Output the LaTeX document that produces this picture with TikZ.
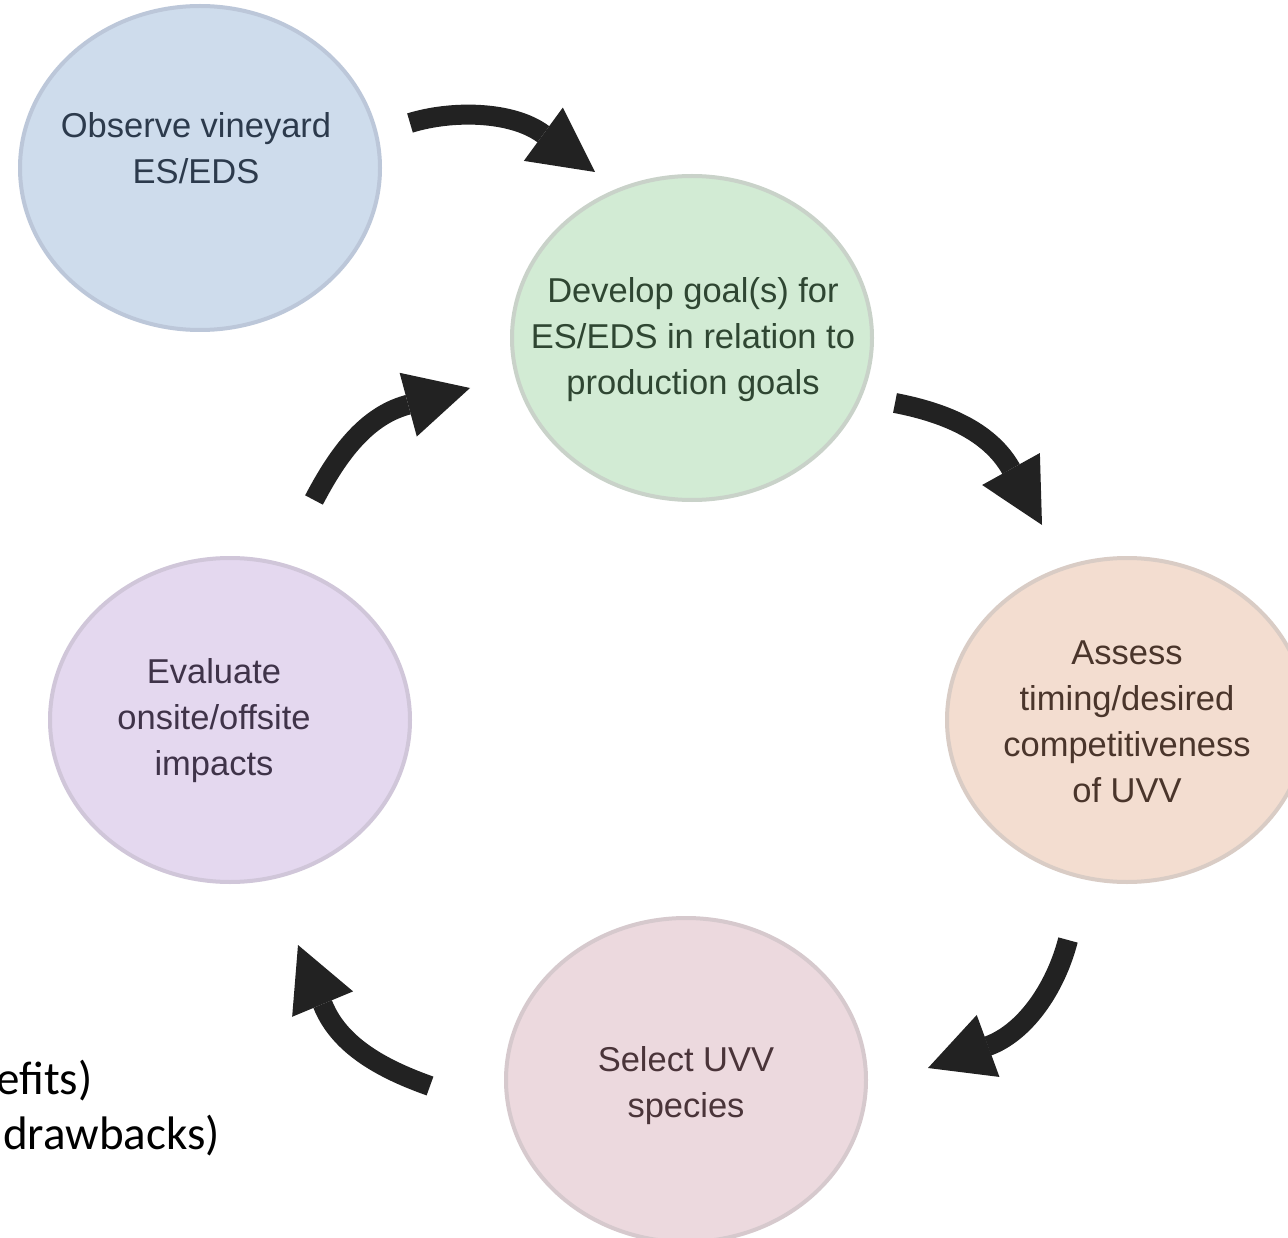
\documentclass[tikz,border=0pt]{standalone}
\usepackage{fontspec}
\setmainfont{Liberation Sans}
\newfontfamily\carlitofont{Carlito}
\usetikzlibrary{shapes.geometric,arrows.meta}
\definecolor{bluefill}{HTML}{CEDCEC}
\definecolor{blueline}{HTML}{BCC7D9}
\definecolor{bluetext}{HTML}{2C3A4C}
\definecolor{greenfill}{HTML}{D2EBD4}
\definecolor{greenline}{HTML}{C9D2C9}
\definecolor{greentext}{HTML}{2F4632}
\definecolor{orangefill}{HTML}{F3DDD0}
\definecolor{orangeline}{HTML}{D9CCC5}
\definecolor{orangetext}{HTML}{4A352B}
\definecolor{purplefill}{HTML}{E4D8EF}
\definecolor{purpleline}{HTML}{D0C6D9}
\definecolor{purpletext}{HTML}{3F3349}
\definecolor{pinkfill}{HTML}{ECD9DE}
\definecolor{pinkline}{HTML}{D6C9CD}
\definecolor{pinktext}{HTML}{4A3439}
\definecolor{arrowcol}{HTML}{222222}
\begin{document}
\begin{tikzpicture}[x=1pt,y=-1pt,
  stage/.style={ellipse, minimum width=360pt, minimum height=324pt, line width=4pt, inner sep=0pt},
  stagetext/.style={font=\fontsize{34.5}{46}\selectfont, align=center, inner sep=0pt},
  bigarrow/.style={draw=arrowcol, line width=20pt, -{Triangle[length=64pt,width=66pt,line width=0pt]}},
  sidetext/.style={font=\carlitofont\fontsize{47}{57}\selectfont, anchor=base west, inner sep=0pt, text=black}]
\useasboundingbox (0,0) rectangle (1288,1238);
\fill[white] (0,0) rectangle (1288,1238);

% stages
\node[stage, fill=bluefill, draw=blueline] (observe) at (200,168) {};
\node[stage, fill=greenfill, draw=greenline] (develop) at (692,338) {};
\node[stage, fill=orangefill, draw=orangeline] (assess) at (1127,720) {};
\node[stage, fill=purplefill, draw=purpleline] (evaluate) at (230,720) {};
\node[stage, fill=pinkfill, draw=pinkline] (select) at (686,1080) {};

% texts
\node[stagetext, text=bluetext] (observetxt) at (196,148) {Observe vineyard\\ES/EDS};
\node[stagetext, text=greentext] (developtxt) at (693,340) {Develop goal(s) for\\ES/EDS in relation to\\production goals};
\node[stagetext, text=orangetext] (assesstxt) at (1127,722) {Assess\\timing/desired\\competitiveness\\of UVV};
\node[stagetext, text=purpletext] (evaluatetxt) at (214,721) {Evaluate\\onsite/offsite\\impacts};
\node[stagetext, text=pinktext] (selecttxt) at (686,1086) {Select UVV\\species};

% arrows: start, base of head, tip
\coordinate (a1s) at (410,123);
\coordinate (a1b) at (543,134);
\coordinate (a1e) at (595,172);
\coordinate (a2s) at (895,403);
\coordinate (a2b) at (1011,469);
\coordinate (a2e) at (1042,525);
\coordinate (a3s) at (1068,940);
\coordinate (a3b) at (988,1046);
\coordinate (a3e) at (928,1068);
\coordinate (a4s) at (430,1086);
\coordinate (a4b) at (323,1005);
\coordinate (a4e) at (298,945);
\coordinate (a5s) at (314,500);
\coordinate (a5b) at (407,405);
\coordinate (a5e) at (470,388);

\draw[bigarrow] (a1s) .. controls (452,110) and (512,111) .. (a1b) -- (a1e);
\draw[bigarrow] (a2s) .. controls (942,412) and (989,430) .. (a2b) -- (a2e);
\draw[bigarrow] (a3s) .. controls (1055,990) and (1024,1033) .. (a3b) -- (a3e);
\draw[bigarrow] (a4s) .. controls (385,1070) and (340,1047) .. (a4b) -- (a4e);
\draw[bigarrow] (a5s) .. controls (335,460) and (363,417) .. (a5b) -- (a5e);

% cropped side text
\node[sidetext] (benefits) at (-4,1094) {efits)};
\node[sidetext] (drawbacks) at (3,1149) {drawbacks)};
\end{tikzpicture}
\end{document}
